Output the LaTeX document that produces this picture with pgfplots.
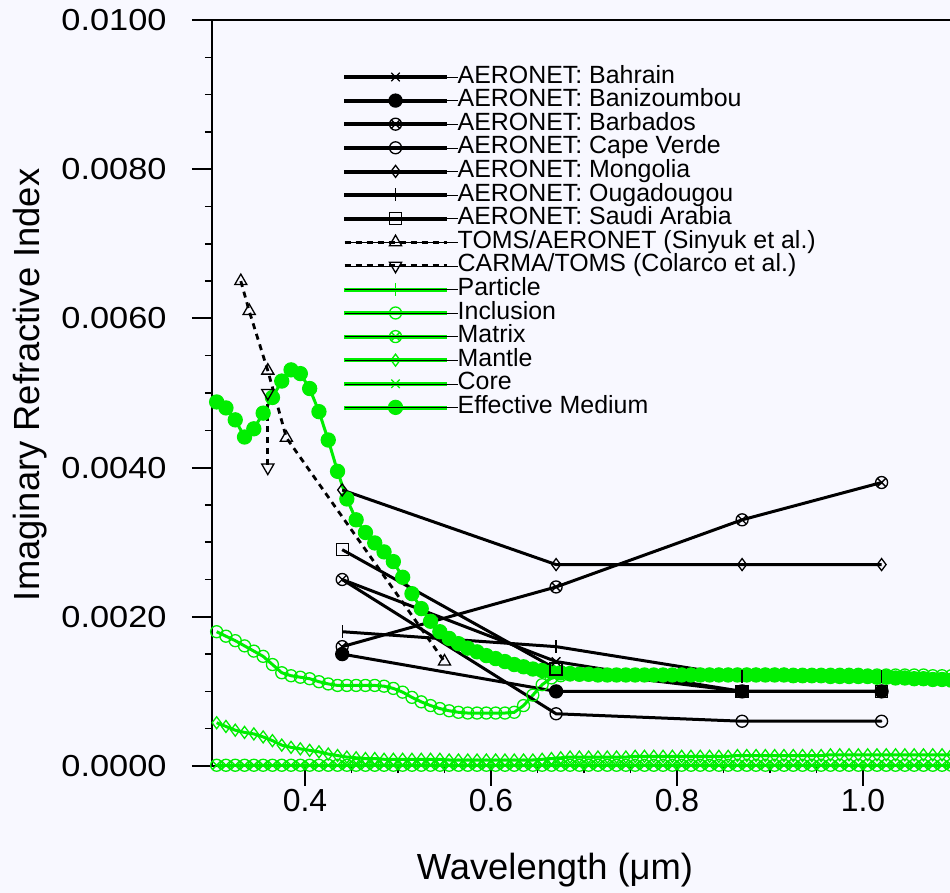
\documentclass[border=0pt]{standalone}
\usepackage{fontspec}
\setmainfont{Liberation Sans}
\newfontfamily\ytf[FakeStretch=1.13]{Liberation Sans}
\usepackage{pgfplots}
\usepackage{pgfplotstable}
\pgfplotsset{compat=1.18}
\usetikzlibrary{backgrounds}
\definecolor{lime}{RGB}{0,238,0}
\definecolor{bgc}{RGB}{248,248,255}
\pgfdeclareplotmark{odot}{%
  \pgfpathcircle{\pgfpointorigin}{\pgfplotmarksize}\pgfusepathqstroke
  \pgfpathcircle{\pgfpointorigin}{0.9pt}\pgfusepathqfill}
\tikzset{
  blk/.style={black, line width=3bp, mark=none},
  dsh/.style={black, line width=2.8bp, dash pattern=on 6bp off 5bp, mark=none},
  grn/.style={lime, line width=3bp, mark=none},
  mkb/.style={black, mark size=6bp, line width=1.3bp},
  mkg/.style={lime, mark size=6bp, line width=1.3bp},
}
\pgfplotsset{
  leg/.style 2 args={legend image code/.code={%
    \fill[#1] (0bp,-1.5bp) rectangle (102bp,1.5bp);
    \draw[#2] plot[only marks] coordinates {(51bp,0bp)};
    \path (0bp,0bp)--(113bp,0bp);}},
  legd/.style={legend image code/.code={%
    \draw[dsh] (0bp,0bp)--(102bp,0bp);
    \draw[#1] plot[only marks] coordinates {(51bp,0bp)};
    \path (0bp,0bp)--(113bp,0bp);}},
}

% ---- data ----
\pgfplotstableread{
x y
0.44 0.0025
0.67 0.0014
0.87 0.0010
1.02 0.0010
}\bahrain
\pgfplotstableread{
x y
0.44 0.0015
0.67 0.0010
0.87 0.0010
1.02 0.0010
}\banizoumbou
\pgfplotstableread{
x y
0.44 0.0016
0.67 0.0024
0.87 0.0033
1.02 0.0038
}\barbados
\pgfplotstableread{
x y
0.44 0.0025
0.67 0.0007
0.87 0.0006
1.02 0.0006
}\capeverde
\pgfplotstableread{
x y
0.44 0.0037
0.67 0.0027
0.87 0.0027
1.02 0.0027
}\mongolia
\pgfplotstableread{
x y
0.44 0.0018
0.67 0.0016
0.87 0.0012
1.02 0.0012
}\ouga
\pgfplotstableread{
x y
0.44 0.0029
0.67 0.0013
0.87 0.0010
1.02 0.0010
}\saudi
\pgfplotstableread{
x y
0.331 0.0065
0.340 0.0061
0.360 0.0053
0.380 0.0044
0.550 0.0014
}\sinyuk
\pgfplotstableread{
x y
0.360 0.0050
0.360 0.0040
}\colarco
\pgfplotstableread[row sep=\\]{
x y\\
0.305 0.00001\\ 0.315 0.00001\\ 0.325 0.00001\\ 0.335 0.00001\\ 0.345 0.00001\\ 0.355 0.00001\\ 0.365 0.00001\\ 0.375 0.00001\\
0.385 0.00001\\ 0.395 0.00001\\ 0.405 0.00001\\ 0.415 0.00001\\ 0.425 0.00001\\ 0.435 0.00001\\ 0.445 0.00001\\ 0.455 0.00001\\
0.465 0.00001\\ 0.475 0.00001\\ 0.485 0.00001\\ 0.495 0.00001\\ 0.505 0.00001\\ 0.515 0.00001\\ 0.525 0.00001\\ 0.535 0.00001\\
0.545 0.00001\\ 0.555 0.00001\\ 0.565 0.00001\\ 0.575 0.00001\\ 0.585 0.00001\\ 0.595 0.00001\\ 0.605 0.00001\\ 0.615 0.00001\\
0.625 0.00001\\ 0.635 0.00001\\ 0.645 0.00001\\ 0.655 0.00001\\ 0.665 0.00001\\ 0.675 0.00001\\ 0.685 0.00001\\ 0.695 0.00001\\
0.705 0.00001\\ 0.715 0.00001\\ 0.725 0.00001\\ 0.735 0.00001\\ 0.745 0.00001\\ 0.755 0.00001\\ 0.765 0.00001\\ 0.775 0.00001\\
0.785 0.00001\\ 0.795 0.00001\\ 0.805 0.00001\\ 0.815 0.00001\\ 0.825 0.00001\\ 0.835 0.00001\\ 0.845 0.00001\\ 0.855 0.00001\\
0.865 0.00001\\ 0.875 0.00001\\ 0.885 0.00001\\ 0.895 0.00001\\ 0.905 0.00001\\ 0.915 0.00001\\ 0.925 0.00001\\ 0.935 0.00001\\
0.945 0.00001\\ 0.955 0.00001\\ 0.965 0.00001\\ 0.975 0.00001\\ 0.985 0.00001\\ 0.995 0.00001\\ 1.005 0.00001\\ 1.015 0.00001\\
1.025 0.00001\\ 1.035 0.00001\\ 1.045 0.00001\\ 1.055 0.00001\\ 1.065 0.00001\\ 1.075 0.00001\\ 1.085 0.00001\\ 1.095 0.00001\\
}\matrixdat
\pgfplotstableread[row sep=\\]{
x y\\
0.305 0.00058\\ 0.315 0.00053\\ 0.325 0.00048\\ 0.335 0.00045\\ 0.345 0.00043\\ 0.355 0.00039\\ 0.365 0.00034\\ 0.375 0.00028\\
0.385 0.00025\\ 0.395 0.00023\\ 0.405 0.00021\\ 0.415 0.00019\\ 0.425 0.00016\\ 0.435 0.00014\\ 0.445 0.00012\\ 0.455 0.00011\\
0.465 0.00010\\ 0.475 0.00010\\ 0.485 0.00009\\ 0.495 0.00009\\ 0.505 0.00009\\ 0.515 0.00009\\ 0.525 0.00009\\ 0.535 0.00009\\
0.545 0.00009\\ 0.555 0.00008\\ 0.565 0.00008\\ 0.575 0.00008\\ 0.585 0.00008\\ 0.595 0.00008\\ 0.605 0.00008\\ 0.615 0.00008\\
0.625 0.00008\\ 0.635 0.00008\\ 0.645 0.00008\\ 0.655 0.00009\\ 0.665 0.00010\\ 0.675 0.00011\\ 0.685 0.00012\\ 0.695 0.00012\\
0.705 0.00012\\ 0.715 0.00012\\ 0.725 0.00012\\ 0.735 0.00012\\ 0.745 0.00012\\ 0.755 0.00013\\ 0.765 0.00013\\ 0.775 0.00013\\
0.785 0.00013\\ 0.795 0.00013\\ 0.805 0.00013\\ 0.815 0.00013\\ 0.825 0.00013\\ 0.835 0.00013\\ 0.845 0.00013\\ 0.855 0.00013\\
0.865 0.00014\\ 0.875 0.00014\\ 0.885 0.00014\\ 0.895 0.00014\\ 0.905 0.00014\\ 0.915 0.00014\\ 0.925 0.00014\\ 0.935 0.00014\\
0.945 0.00014\\ 0.955 0.00014\\ 0.965 0.00015\\ 0.975 0.00015\\ 0.985 0.00015\\ 0.995 0.00015\\ 1.005 0.00015\\ 1.015 0.00015\\
1.025 0.00015\\ 1.035 0.00015\\ 1.045 0.00015\\ 1.055 0.00015\\ 1.065 0.00015\\ 1.075 0.00015\\ 1.085 0.00015\\ 1.095 0.00015\\
}\mantle
\pgfplotstableread[row sep=\\]{
x y\\
0.305 0.00180\\ 0.315 0.00174\\ 0.325 0.00168\\ 0.335 0.00161\\ 0.345 0.00154\\ 0.355 0.00147\\ 0.365 0.00136\\ 0.375 0.00125\\
0.385 0.00121\\ 0.395 0.00119\\ 0.405 0.00117\\ 0.415 0.00113\\ 0.425 0.00110\\ 0.435 0.00108\\ 0.445 0.00108\\ 0.455 0.00108\\
0.465 0.00108\\ 0.475 0.00108\\ 0.485 0.00107\\ 0.495 0.00104\\ 0.505 0.00099\\ 0.515 0.00092\\ 0.525 0.00086\\ 0.535 0.00081\\
0.545 0.00077\\ 0.555 0.00074\\ 0.565 0.00072\\ 0.575 0.00071\\ 0.585 0.00071\\ 0.595 0.00071\\ 0.605 0.00071\\ 0.615 0.00071\\
0.625 0.00072\\ 0.635 0.00081\\ 0.645 0.00095\\ 0.655 0.00109\\ 0.665 0.00118\\ 0.675 0.00121\\ 0.685 0.00122\\ 0.695 0.00122\\
0.705 0.00122\\ 0.715 0.00122\\ 0.725 0.00122\\ 0.735 0.00122\\ 0.745 0.00122\\ 0.755 0.00122\\ 0.765 0.00122\\ 0.775 0.00122\\
0.785 0.00122\\ 0.795 0.00122\\ 0.805 0.00123\\ 0.815 0.00123\\ 0.825 0.00123\\ 0.835 0.00123\\ 0.845 0.00123\\ 0.855 0.00123\\
0.865 0.00123\\ 0.875 0.00123\\ 0.885 0.00123\\ 0.895 0.00123\\ 0.905 0.00123\\ 0.915 0.00123\\ 0.925 0.00123\\ 0.935 0.00123\\
0.945 0.00123\\ 0.955 0.00123\\ 0.965 0.00123\\ 0.975 0.00123\\ 0.985 0.00123\\ 0.995 0.00123\\ 1.005 0.00122\\ 1.015 0.00122\\
1.025 0.00122\\ 1.035 0.00122\\ 1.045 0.00122\\ 1.055 0.00122\\ 1.065 0.00122\\ 1.075 0.00121\\ 1.085 0.00121\\ 1.095 0.00121\\
}\inclusion
\pgfplotstableread[row sep=\\]{
x y\\
0.305 0.00488\\ 0.315 0.00480\\ 0.325 0.00464\\ 0.335 0.00441\\ 0.345 0.00452\\ 0.355 0.00473\\ 0.365 0.00494\\ 0.375 0.00516\\
0.385 0.00531\\ 0.395 0.00526\\ 0.405 0.00506\\ 0.415 0.00475\\ 0.425 0.00437\\ 0.435 0.00395\\ 0.445 0.00358\\ 0.455 0.00330\\
0.465 0.00313\\ 0.475 0.00299\\ 0.485 0.00287\\ 0.495 0.00274\\ 0.505 0.00253\\ 0.515 0.00231\\ 0.525 0.00211\\ 0.535 0.00194\\
0.545 0.00180\\ 0.555 0.00171\\ 0.565 0.00164\\ 0.575 0.00158\\ 0.585 0.00153\\ 0.595 0.00148\\ 0.605 0.00144\\ 0.615 0.00140\\
0.625 0.00136\\ 0.635 0.00133\\ 0.645 0.00130\\ 0.655 0.00128\\ 0.665 0.00126\\ 0.675 0.00125\\ 0.685 0.00124\\ 0.695 0.00123\\
0.705 0.00123\\ 0.715 0.00122\\ 0.725 0.00122\\ 0.735 0.00122\\ 0.745 0.00122\\ 0.755 0.00122\\ 0.765 0.00122\\ 0.775 0.00122\\
0.785 0.00122\\ 0.795 0.00122\\ 0.805 0.00122\\ 0.815 0.00122\\ 0.825 0.00122\\ 0.835 0.00122\\ 0.845 0.00122\\ 0.855 0.00122\\
0.865 0.00122\\ 0.875 0.00122\\ 0.885 0.00122\\ 0.895 0.00122\\ 0.905 0.00122\\ 0.915 0.00122\\ 0.925 0.00121\\ 0.935 0.00121\\
0.945 0.00121\\ 0.955 0.00121\\ 0.965 0.00120\\ 0.975 0.00120\\ 0.985 0.00120\\ 0.995 0.00120\\ 1.005 0.00120\\ 1.015 0.00119\\
1.025 0.00119\\ 1.035 0.00118\\ 1.045 0.00118\\ 1.055 0.00117\\ 1.065 0.00117\\ 1.075 0.00116\\ 1.085 0.00116\\ 1.095 0.00115\\
}\effmed

\begin{document}
\begin{tikzpicture}[show background rectangle, background rectangle/.style={fill=bgc, draw=none}, inner frame sep=0pt]
\begin{axis}[
  scale only axis, width=744bp, height=746bp,
  xmin=0.3, xmax=1.1, ymin=0, ymax=0.01,
  clip=false,
  tick pos=left, tick align=outside,
  axis line style={line width=2.5bp},
  major tick length=20bp, minor tick length=7bp,
  every major tick/.style={line width=2bp, black},
  every minor tick/.style={line width=1.5bp, black},
  xtick={0.4,0.6,0.8,1.0}, minor x tick num=3,
  ytick={0,0.002,0.004,0.006,0.008,0.01}, minor y tick num=3,
  scaled y ticks=false, scaled x ticks=false,
  xticklabel style={font=\fontsize{32}{32}\selectfont, /pgf/number format/.cd, fixed, fixed zerofill, precision=1, assume math mode=true},
  yticklabel style={font=\ytf\fontsize{30.5}{30.5}\selectfont, xshift=-22bp, /pgf/number format/.cd, fixed, fixed zerofill, precision=4, assume math mode=true},
  xlabel={Wavelength (μm)},
  ylabel={Imaginary Refractive Index},
  label style={font=\fontsize{36.5}{36.5}\selectfont},
  xlabel style={at={(rel axis cs:0.461,0)}, anchor=north, inner sep=0pt, yshift=-87bp},
  ylabel style={at={(axis description cs:-0.2446,0.511)}, anchor=center},
  legend cell align=left,
  legend style={at={(0.176,0.9397)}, anchor=north west, draw=none, fill=none,
    font=\fontsize{25}{25}\selectfont, row sep=0bp, inner sep=0pt,
    nodes={inner sep=0pt, text height=18bp, text depth=5.6bp}},
]
\coordinate (SW) at (rel axis cs:0,0);
\coordinate (NE) at (rel axis cs:1,1);

% legend entries
\addlegendimage{leg={black}{mkb, mark=x}}
\addlegendentry{AERONET: Bahrain}
\addlegendimage{leg={black}{mkb, mark=*, mark size=6.5bp}}
\addlegendentry{AERONET: Banizoumbou}
\addlegendimage{leg={black}{mkb, mark=otimes}}
\addlegendentry{AERONET: Barbados}
\addlegendimage{leg={black}{mkb, mark=odot}}
\addlegendentry{AERONET: Cape Verde}
\addlegendimage{leg={black}{mkb, mark=diamond}}
\addlegendentry{AERONET: Mongolia}
\addlegendimage{leg={black}{mkb, mark=|, mark size=6.5bp}}
\addlegendentry{AERONET: Ougadougou}
\addlegendimage{leg={black}{mkb, mark=square}}
\addlegendentry{AERONET: Saudi Arabia}
\addlegendimage{legd={mkb, mark=triangle, mark size=7bp}}
\addlegendentry{TOMS/AERONET (Sinyuk et al.)}
\addlegendimage{legd={mkb, mark=triangle, mark size=7bp, mark options={rotate=180}}}
\addlegendentry{CARMA/TOMS (Colarco et al.)}
\addlegendimage{leg={lime}{mkg, mark=|, mark size=6.5bp}}
\addlegendentry{Particle}
\addlegendimage{leg={lime}{mkg, mark=o}}
\addlegendentry{Inclusion}
\addlegendimage{leg={lime}{mkg, mark=otimes}}
\addlegendentry{Matrix}
\addlegendimage{leg={lime}{mkg, mark=diamond}}
\addlegendentry{Mantle}
\addlegendimage{leg={lime}{mkg, mark=x}}
\addlegendentry{Core}
\addlegendimage{leg={lime}{mkg, mark=*, mark size=7bp}}
\addlegendentry{Effective Medium}

% green model curves
\addplot[forget plot, grn] table {\matrixdat};
\addplot[forget plot, only marks, mkg, mark=otimes] table {\matrixdat};
\addplot[forget plot, grn] table {\mantle};
\addplot[forget plot, only marks, mkg, mark=diamond] table {\mantle};
\addplot[forget plot, grn] table {\inclusion};
\addplot[forget plot, only marks, mkg, mark=o] table {\inclusion};
\addplot[forget plot, grn] table {\effmed};
\addplot[forget plot, only marks, mkg, mark=*, mark size=7bp] table {\effmed};

% TOMS
\addplot[forget plot, dsh] table {\sinyuk};
\addplot[forget plot, only marks, mkb, mark=triangle, mark size=7bp] table {\sinyuk};
\addplot[forget plot, dsh] table {\colarco};
\addplot[forget plot, only marks, mkb, mark=triangle, mark size=7bp, mark options={rotate=180}] table {\colarco};

% AERONET
\addplot[forget plot, blk] table {\mongolia};
\addplot[forget plot, only marks, mkb, mark=diamond] table {\mongolia};
\addplot[forget plot, blk] table {\barbados};
\addplot[forget plot, only marks, mkb, mark=otimes] table {\barbados};
\addplot[forget plot, blk] table {\ouga};
\addplot[forget plot, only marks, mkb, mark=|, mark size=6.5bp] table {\ouga};
\addplot[forget plot, blk] table {\capeverde};
\addplot[forget plot, only marks, mkb, mark=odot] table {\capeverde};
\addplot[forget plot, blk] table {\bahrain};
\addplot[forget plot, only marks, mkb, mark=x] table {\bahrain};
\addplot[forget plot, blk] table {\saudi};
\addplot[forget plot, only marks, mkb, mark=square] table {\saudi};
\addplot[forget plot, blk] table {\banizoumbou};
\addplot[forget plot, only marks, mkb, mark=*, mark size=6.5bp] table {\banizoumbou};
\end{axis}
\pgfresetboundingbox
\useasboundingbox ([xshift=-212bp,yshift=-127bp]SW) rectangle ([xshift=-6bp,yshift=20bp]NE);
\end{tikzpicture}
\end{document}
